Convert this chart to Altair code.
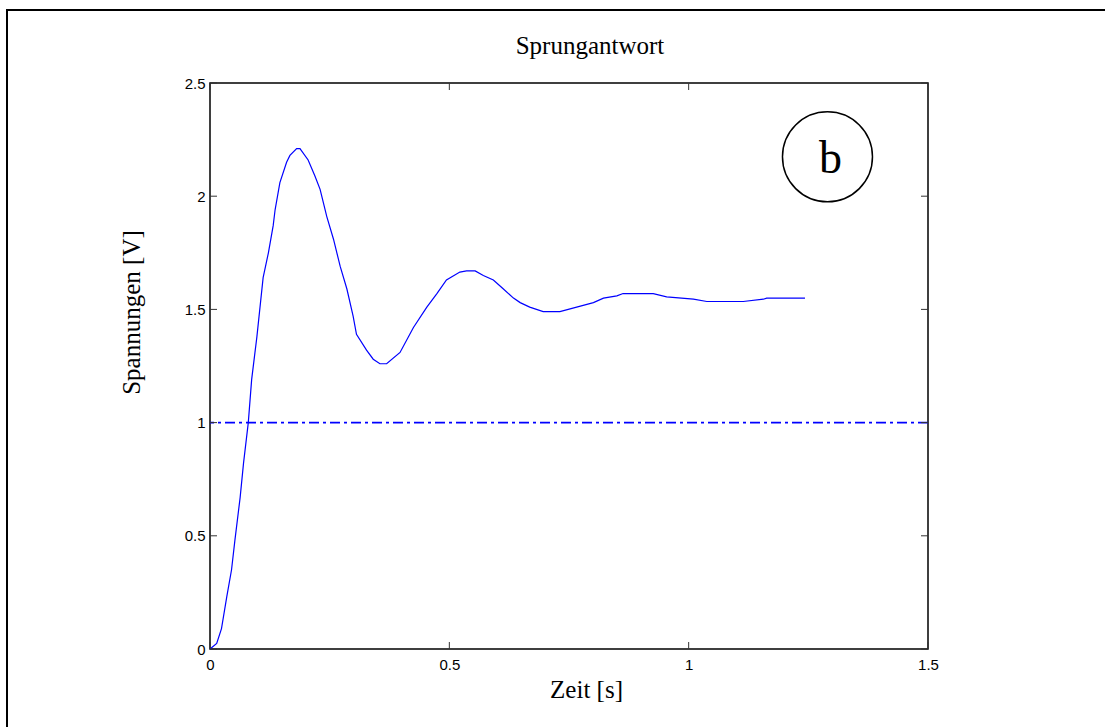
import altair as alt
import pandas as pd

# Step response curve
t_vals = [0, 0.014, 0.024, 0.035, 0.045, 0.052, 0.063, 0.070, 0.080, 0.087, 0.098,
          0.111, 0.122, 0.132, 0.136, 0.146, 0.160, 0.167, 0.181, 0.188, 0.205,
          0.219, 0.230, 0.244, 0.258, 0.272, 0.286, 0.299, 0.306, 0.327, 0.341,
          0.355, 0.369, 0.397, 0.425, 0.453, 0.474, 0.494, 0.522, 0.536, 0.554,
          0.571, 0.592, 0.613, 0.634, 0.648, 0.668, 0.696, 0.731, 0.766, 0.801,
          0.822, 0.850, 0.863, 0.926, 0.954, 1.010, 1.038, 1.114, 1.156, 1.163, 1.243]
v_vals = [0, 0.025, 0.09, 0.23, 0.35, 0.48, 0.67, 0.82, 1.0, 1.19, 1.38,
          1.64, 1.75, 1.87, 1.94, 2.06, 2.15, 2.18, 2.21, 2.21, 2.16,
          2.09, 2.03, 1.91, 1.81, 1.69, 1.59, 1.47, 1.39, 1.32, 1.28,
          1.26, 1.26, 1.31, 1.42, 1.51, 1.57, 1.63, 1.665, 1.67, 1.67,
          1.65, 1.63, 1.59, 1.55, 1.53, 1.51, 1.49, 1.49, 1.51, 1.53,
          1.55, 1.56, 1.57, 1.57, 1.555, 1.545, 1.535, 1.535, 1.545, 1.55, 1.55]

reference_level = [1.0]
x_ticks = [0, 0.5, 1, 1.5]
y_ticks = [0, 0.5, 1, 1.5, 2, 2.5]
marker_label = ["b"]
marker_t = [1.29]
marker_v = [2.174]
title_text = ["Sprungantwort"]

W, H = 718, 566
SERIF = "Liberation Serif"
SANS = "Liberation Sans"

curve = pd.DataFrame({"t": t_vals, "v": v_vals})
ref = pd.DataFrame({"v": reference_level})
xt = pd.DataFrame({"t": x_ticks})
yt = pd.DataFrame({"v": y_ticks})
mk = pd.DataFrame({"t": marker_t, "v": marker_v, "label": marker_label})
tt = pd.DataFrame({"label": title_text})

xscale = alt.Scale(domain=[0, 1.5], nice=False, zero=False)
yscale = alt.Scale(domain=[0, 2.5], nice=False, zero=False)

xaxis = alt.Axis(values=x_ticks, format="~g", ticks=False, domain=False, grid=False,
                 labelFont=SANS, labelFontSize=15, labelColor="black", labelPadding=8,
                 title="Zeit [s]", titleFont=SERIF, titleFontSize=25, titleFontWeight="normal",
                 titleColor="black", titleX=376, titleY=48, titleBaseline="alphabetic",
                 titleAlign="center", labelFlush=False)
yaxis = alt.Axis(values=y_ticks, format="~g", ticks=False, domain=False, grid=False,
                 labelFont=SANS, labelFontSize=15, labelColor="black", labelPadding=5,
                 title="Spannungen [V]", titleFont=SERIF, titleFontSize=25,
                 titleFontWeight="normal", titleColor="black", titleX=-71, titleY=229,
                 titleBaseline="alphabetic", titleAlign="center", titleAngle=270,
                 labelFlush=False)

line = alt.Chart(curve).mark_line(color="#0000ff", strokeWidth=1.2).encode(
    x=alt.X("t:Q", scale=xscale, axis=xaxis),
    y=alt.Y("v:Q", scale=yscale, axis=yaxis),
)

ref_line = alt.Chart(ref).mark_rule(color="#0000ff", strokeWidth=1.6,
                                    strokeDash=[10, 4, 3, 4]).encode(
    y=alt.Y("v:Q", scale=yscale)
)

tick_style = dict(color="#333333", strokeWidth=1)
xt_bottom = alt.Chart(xt).mark_rule(**tick_style).encode(
    x=alt.X("t:Q", scale=xscale), y=alt.value(H), y2=alt.value(H - 7))
xt_top = alt.Chart(xt).mark_rule(**tick_style).encode(
    x=alt.X("t:Q", scale=xscale), y=alt.value(0), y2=alt.value(7))
yt_left = alt.Chart(yt).mark_rule(**tick_style).encode(
    y=alt.Y("v:Q", scale=yscale), x=alt.value(0), x2=alt.value(7))
yt_right = alt.Chart(yt).mark_rule(**tick_style).encode(
    y=alt.Y("v:Q", scale=yscale), x=alt.value(W), x2=alt.value(W - 7))

circle = alt.Chart(mk).mark_point(shape="circle", size=8100, filled=False,
                                  color="black", strokeWidth=1.5, opacity=1).encode(
    x=alt.X("t:Q", scale=xscale), y=alt.Y("v:Q", scale=yscale))
letter = alt.Chart(mk).mark_text(font=SERIF, fontSize=46, color="black",
                                 baseline="alphabetic", align="center", dx=3, dy=16).encode(
    x=alt.X("t:Q", scale=xscale), y=alt.Y("v:Q", scale=yscale), text="label:N")

title = alt.Chart(tt).mark_text(font=SERIF, fontSize=25, color="black",
                                baseline="alphabetic", align="center").encode(
    x=alt.value(380), y=alt.value(-29), text="label:N")

frame = alt.Chart(pd.DataFrame({"k": [0]})).mark_rect(
    filled=False, stroke="black", strokeWidth=2, fill=None).encode(
    x=alt.value(-203), x2=alt.value(905), y=alt.value(-73), y2=alt.value(720))

chart = alt.layer(line, ref_line, xt_bottom, xt_top, yt_left, yt_right,
                  circle, letter, title, frame).properties(
    width=W, height=H,
    background="white",
    autosize=alt.AutoSizeParams(type="none"),
    padding={"left": 210, "top": 83, "right": 1105 - 210 - W, "bottom": 727 - 83 - H},
).configure_view(stroke="black", strokeWidth=1.5)

chart.save("out.html", embed_options={"renderer": "svg", "actions": False})
